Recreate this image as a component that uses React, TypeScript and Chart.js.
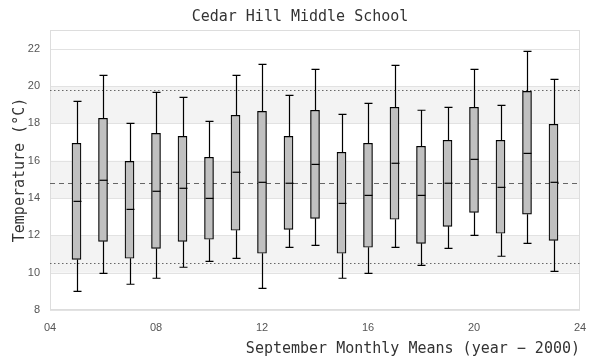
import React, { useEffect, useRef } from "react";
import { Chart, registerables } from "chart.js";

Chart.register(...registerables);

const years = [5, 6, 7, 8, 9, 10, 11, 12, 13, 14, 15, 16, 17, 18, 19, 20, 21, 22, 23];
const mins = [9.0, 9.96, 9.38, 9.7, 10.29, 10.61, 10.77, 9.16, 11.36, 11.46, 9.7, 9.96, 11.36, 10.39, 11.3, 12.0, 10.88, 11.57, 10.07];
const q1s = [10.71, 11.68, 10.77, 11.3, 11.68, 11.79, 12.27, 11.04, 12.32, 12.91, 11.04, 11.36, 12.86, 11.57, 12.48, 13.23, 12.11, 13.13, 11.73];
const medians = [13.82, 14.95, 13.39, 14.36, 14.52, 13.98, 15.38, 14.84, 14.79, 15.8, 13.71, 14.14, 15.86, 14.14, 14.79, 16.07, 14.57, 16.39, 14.84];
const q3s = [16.93, 18.27, 15.96, 17.46, 17.3, 16.18, 18.43, 18.64, 17.3, 18.7, 16.45, 16.93, 18.86, 16.77, 17.09, 18.86, 17.09, 19.71, 17.95];
const maxs = [19.18, 20.57, 18.0, 19.66, 19.39, 18.11, 20.57, 21.16, 19.5, 20.89, 18.48, 19.07, 21.11, 18.7, 18.86, 20.89, 18.96, 21.86, 20.36];

const yTicks = [8, 10, 12, 14, 16, 18, 20, 22, 23];
const xTicks = [4, 8, 12, 16, 20, 24];
const bands = [[10, 12], [14, 16], [18, 20]];
const upperRef = 19.8;
const meanRef = 14.8;
const lowerRef = 10.5;

const MONO = "'DejaVu Sans Mono', monospace";

const boxPlugin = {
  id: "boxExtras",
  beforeDatasetsDraw(chart: any) {
    const { ctx, chartArea, scales } = chart;
    const y = scales.y;
    ctx.save();
    ctx.fillStyle = "#f3f3f3";
    for (const [a, b] of bands) {
      const ya = y.getPixelForValue(a);
      const yb = y.getPixelForValue(b);
      ctx.fillRect(chartArea.left, yb, chartArea.right - chartArea.left, ya - yb);
    }
    ctx.strokeStyle = "#e2e2e2";
    ctx.lineWidth = 1;
    for (const t of yTicks) {
      const py = Math.round(y.getPixelForValue(t)) + 0.5;
      ctx.beginPath();
      ctx.moveTo(chartArea.left, py);
      ctx.lineTo(chartArea.right, py);
      ctx.stroke();
    }
    ctx.strokeStyle = "#dddddd";
    ctx.strokeRect(chartArea.left + 0.5, chartArea.top + 0.5, chartArea.right - chartArea.left - 1, chartArea.bottom - chartArea.top - 1);
    ctx.strokeStyle = "#666666";
    ctx.lineWidth = 1;
    const refs: [number, number[]][] = [[upperRef, [1.5, 2.5]], [lowerRef, [1.5, 2.5]], [meanRef, [5, 4]]];
    for (const [v, dash] of refs) {
      const py = Math.round(y.getPixelForValue(v)) + 0.5;
      ctx.setLineDash(dash);
      ctx.beginPath();
      ctx.moveTo(chartArea.left, py);
      ctx.lineTo(chartArea.right, py);
      ctx.stroke();
    }
    ctx.setLineDash([]);
    const x = scales.x;
    ctx.strokeStyle = "#000";
    ctx.lineWidth = 1.2;
    years.forEach((yr, i) => {
      const px = Math.round(x.getPixelForValue(yr)) + 0.5;
      const half = 4;
      const yMin = y.getPixelForValue(mins[i]);
      const yQ1 = y.getPixelForValue(q1s[i]);
      const yQ3 = y.getPixelForValue(q3s[i]);
      const yMax = y.getPixelForValue(maxs[i]);
      ctx.beginPath();
      ctx.moveTo(px, yQ1);
      ctx.lineTo(px, yMin);
      ctx.moveTo(px - half, yMin);
      ctx.lineTo(px + half, yMin);
      ctx.moveTo(px, yQ3);
      ctx.lineTo(px, yMax);
      ctx.moveTo(px - half, yMax);
      ctx.lineTo(px + half, yMax);
      ctx.stroke();
    });
    ctx.restore();
  },
  afterDatasetsDraw(chart: any) {
    const { ctx, scales } = chart;
    const x = scales.x;
    const y = scales.y;
    ctx.save();
    ctx.strokeStyle = "#000";
    ctx.lineWidth = 1.2;
    years.forEach((yr, i) => {
      const px = Math.round(x.getPixelForValue(yr)) + 0.5;
      const py = y.getPixelForValue(medians[i]);
      ctx.beginPath();
      ctx.moveTo(px - 4, py);
      ctx.lineTo(px + 4, py);
      ctx.stroke();
    });
    ctx.restore();
  },
};

function App() {
  const ref = useRef<HTMLCanvasElement>(null);
  useEffect(() => {
    if (!ref.current) return;
    const chart = new Chart(ref.current, {
      type: "bar",
      data: {
        datasets: [
          {
            data: years.map((yr, i) => ({ x: yr, y: [q1s[i], q3s[i]] })) as any,
            backgroundColor: "#c0c0c0",
            borderColor: "#000000",
            borderWidth: 1.2,
            borderSkipped: false,
            barThickness: 9,
          },
        ],
      },
      options: {
        animation: false,
        responsive: false,
        maintainAspectRatio: false,
        layout: { padding: 0 },
        plugins: {
          legend: { display: false },
          tooltip: { enabled: false },
          title: {
            display: true,
            text: "Cedar Hill Middle School",
            color: "#333333",
            font: { family: MONO, size: 15, weight: "normal" },
            padding: { top: 8, bottom: 4 },
          },
        },
        scales: {
          x: {
            type: "linear",
            min: 4,
            max: 24,
            offset: false,
            grid: { display: false },
            border: { display: false },
            afterBuildTicks: (s: any) => {
              s.ticks = xTicks.map((v) => ({ value: v }));
            },
            afterFit: (s: any) => {
              s.height = 50;
            },
            ticks: {
              color: "#555555",
              font: { size: 11 },
              maxRotation: 0,
              padding: 3,
              callback: (v: any) => String(v).padStart(2, "0"),
            },
            title: {
              display: true,
              text: "September Monthly Means (year − 2000)",
              align: "end",
              color: "#333333",
              font: { family: MONO, size: 15, weight: "normal" },
              padding: { top: 4, bottom: 2 },
            },
          },
          y: {
            type: "linear",
            min: 8,
            max: 23,
            grid: { display: false },
            border: { display: false },
            afterBuildTicks: (s: any) => {
              s.ticks = yTicks.map((v) => ({ value: v }));
            },
            afterFit: (s: any) => {
              s.width = 50;
            },
            ticks: {
              color: "#555555",
              font: { size: 11 },
              padding: 2,
              callback: (v: any) => (v === 23 ? "" : String(v)),
            },
            title: {
              display: true,
              text: "Temperature (°C)",
              color: "#333333",
              font: { family: MONO, size: 15, weight: "normal" },
              padding: { top: 11, bottom: 2 },
            },
          },
          yRight: {
            type: "linear",
            position: "right",
            min: 8,
            max: 23,
            grid: { display: false },
            border: { display: false },
            ticks: { display: false },
            afterFit: (s: any) => {
              s.width = 20;
            },
          },
        },
      },
      plugins: [boxPlugin],
    });
    return () => chart.destroy();
  }, []);
  return (
    <div style={{ position: "fixed", left: 0, top: 0, width: 600, height: 360, background: "#fff" }}>
      <canvas ref={ref} width={600} height={360} style={{ width: 600, height: 360 }} />
    </div>
  );
}

export default App;
